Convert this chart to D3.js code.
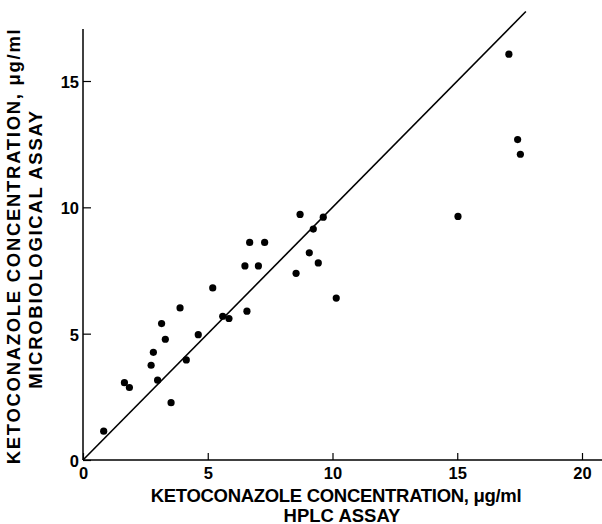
<!DOCTYPE html>
<html><head><meta charset="utf-8">
<script src="https://cdn.jsdelivr.net/npm/d3@7"></script>
<style>
body{margin:0;background:#fff;}
text{font-family:"Liberation Sans",Arial,sans-serif;font-weight:bold;fill:#000;}
</style></head>
<body>
<svg id="c" width="602" height="524"></svg>
<script>
const hplc = [0.83,1.66,1.86,2.73,2.82,2.99,3.15,3.30,3.53,3.89,4.14,4.62,5.20,5.60,5.85,6.49,6.57,7.03,8.54,9.07,9.43,10.15,6.68,7.28,8.70,9.23,9.63,17.07,17.42,17.53,15.03];
const micro = [1.14,3.06,2.87,3.75,4.26,3.16,5.40,4.78,2.27,6.02,3.96,4.96,6.81,5.69,5.60,7.68,5.89,7.68,7.39,8.20,7.80,6.41,8.61,8.61,9.72,9.14,9.61,16.06,12.68,12.10,9.64];
const xTicks = [0,5,10,15,20];
const yTicks = [0,5,10,15];
const lineEnds = [0,17.75];
const xTitle = ["KETOCONAZOLE CONCENTRATION, \u03bcg/ml","HPLC ASSAY"];
const yTitle = ["KETOCONAZOLE CONCENTRATION, \u03bcg/ml","MICROBIOLOGICAL ASSAY"];

const svg = d3.select("#c");
const x = d3.scaleLinear().domain([0,20]).range([83,582]);
const y = d3.scaleLinear().domain([0,15]).range([460,81]);

// axes
const xAx = svg.append("g").attr("transform","translate(0,"+y(0)+")")
  .call(d3.axisBottom(x).tickValues(xTicks).tickSizeInner(-7).tickSizeOuter(0).tickPadding(7));
xAx.select(".domain").attr("d","M"+x(0)+",0H602");
const yAx = svg.append("g").attr("transform","translate("+x(0)+",0)")
  .call(d3.axisLeft(y).tickValues(yTicks).tickSizeInner(-8).tickSizeOuter(0).tickPadding(4));
yAx.select(".domain").attr("d","M0,"+y(0)+"V29");
svg.selectAll(".tick line").attr("stroke","#000").attr("stroke-width",1.2);
svg.selectAll(".domain").attr("stroke","#000").attr("stroke-width",1.5);
svg.selectAll(".tick text").style("font-size","16.5px").style("font-family","Liberation Sans, Arial, sans-serif").style("font-weight","bold");
xAx.selectAll(".tick text").attr("dy","0.71em");
yAx.selectAll(".tick text").attr("dy","0.4em");

// identity line
svg.append("line").attr("x1",x(lineEnds[0])).attr("y1",y(lineEnds[0]))
  .attr("x2",x(lineEnds[1])).attr("y2",y(lineEnds[1]))
  .attr("stroke","#000").attr("stroke-width",1.6);

// points
svg.append("g").selectAll("circle").data(hplc).join("circle")
  .attr("cx",(d)=>x(d)).attr("cy",(d,i)=>y(micro[i])).attr("r",3.6).attr("fill","#000");

// titles
const fs = "18.5px";
svg.append("text").attr("x",336).attr("y",501.5).attr("text-anchor","middle").style("font-size",fs).style("letter-spacing","-0.3px").text(xTitle[0]);
svg.append("text").attr("x",342).attr("y",521.5).attr("text-anchor","middle").style("font-size",fs).text(xTitle[1]);
svg.append("text").attr("transform","translate(20,246) rotate(-90)").attr("text-anchor","middle").style("font-size",fs).style("letter-spacing","1.7px").text(yTitle[0]);
svg.append("text").attr("transform","translate(42,249) rotate(-90)").attr("text-anchor","middle").style("font-size",fs).style("letter-spacing","1.7px").text(yTitle[1]);
</script>
</body></html>
